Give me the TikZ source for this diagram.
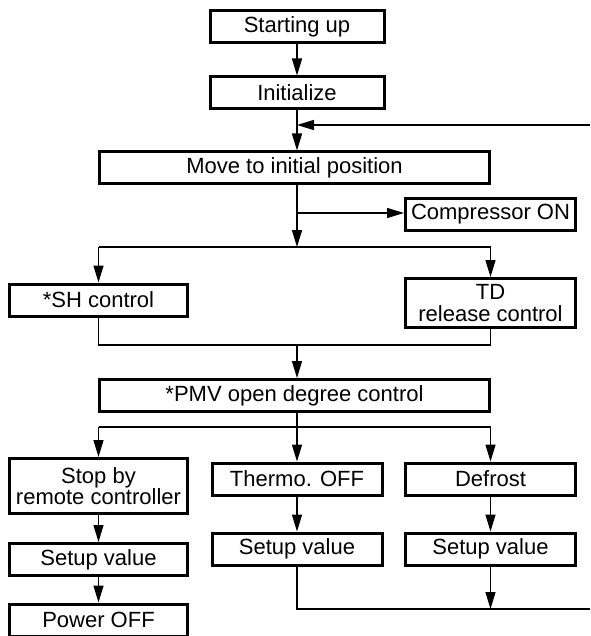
\documentclass[tikz,border=0pt]{standalone}
\usepackage{fontspec}
\setmainfont{Liberation Sans}
\usetikzlibrary{arrows.meta,positioning,calc}

\begin{document}
\begin{tikzpicture}[
        x=1pt, y=-1pt,
        block/.style={rectangle, draw=black, line width=3pt, inner sep=0pt, minimum height=32pt, align=center, font=\fontsize{22}{21.5}\selectfont},
        link/.style={-, line width=1.4pt},
        flow/.style={-{Triangle[length=17pt,width=10pt]}, line width=1.4pt}
    ]
        \useasboundingbox (0,0) rectangle (590,636);

        \node[block, minimum width=174pt] (start) at (297,27) {Starting up};
        \node[block, minimum width=174pt] (init) at (297,93) {Initialize};
        \node[block, minimum width=390pt] (move) at (294.5,168) {Move to initial position};
        \node[block, minimum width=170pt] (comp) at (490.5,214.5) {Compressor ON};

        \node[block, minimum width=178pt] (sh) at (98.5,300) {*SH control};
        \node[block, minimum width=170pt, minimum height=49pt] (td) at (490.5,303) {TD\\release control};
        \node[block, minimum width=390pt] (pmv) at (294.5,395.5) {*PMV open degree control};

        \node[block, minimum width=178pt, minimum height=55pt] (stop) at (98.5,486) {Stop by\\remote controller};
        \node[block, minimum width=170pt] (thermo) at (297,479) {Thermo. OFF};
        \node[block, minimum width=170pt] (defrost) at (490.5,479) {Defrost};
        \node[block, minimum width=178pt] (setleft) at (98.5,559.5) {Setup value};
        \node[block, minimum width=170pt] (setmid) at (297,549) {Setup value};
        \node[block, minimum width=170pt] (setright) at (490.5,549) {Setup value};
        \node[block, minimum width=178pt] (power) at (98.5,620) {Power OFF};

        \coordinate (back) at (297,125);
        \coordinate (backin) at (590,125);
        \coordinate (tap) at (297,213);
        \coordinate (split1) at (297,247);
        \coordinate (join1) at (297,345);
        \coordinate (split2) at (297,427);
        \coordinate (merge) at (590,609);

        \draw[flow] (start) -- (init);
        \draw[flow] (init.south) -- (init.south |- move.north);
        \draw[flow] (backin) -- (back);

        \draw[flow] (move.south -| split1) -- (split1);
        \draw[flow] (tap) -- (tap -| comp.west);
        \draw[link] (sh.north |- split1) -- (td.north |- split1);
        \draw[flow] (sh.north |- split1) -- (sh.north);
        \draw[flow] (td.north |- split1) -- (td.north);
        \draw[link] (sh.south) |- (join1) -| (td.south);
        \draw[flow] (join1) -- (join1 |- pmv.north);

        \draw[flow] (pmv.south -| thermo) -- (thermo.north);
        \draw[link] (stop.north |- split2) -- (defrost.north |- split2);
        \draw[flow] (stop.north |- split2) -- (stop.north);
        \draw[flow] (defrost.north |- split2) -- (defrost.north);

        \draw[flow] (stop) -- (setleft);
        \draw[flow] (setleft) -- (power);
        \draw[flow] (thermo) -- (setmid);
        \draw[flow] (defrost) -- (setright);
        \draw[link] (setmid.south) |- (merge);
        \draw[flow] (setright.south) -- (setright.south |- merge);
    \end{tikzpicture}
\end{document}
